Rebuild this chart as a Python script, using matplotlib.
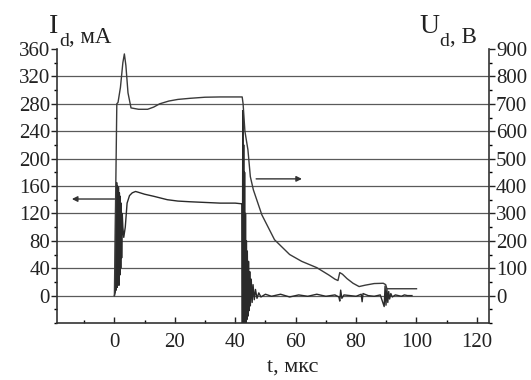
import matplotlib
matplotlib.use("Agg")
import matplotlib.pyplot as plt
from matplotlib.ticker import MultipleLocator

plt.rcParams['font.family'] = ['Liberation Serif', 'DejaVu Serif']

# ---- data ----
# Voltage U_d (V, right axis)
u_t = [0.0, 0.8, 1.2, 2.0, 2.8, 3.3, 3.8, 4.5, 5.5, 8.0, 11.0, 13.0, 15.0, 18.0,
       21.0, 25.0, 30.0, 35.0, 42.3, 42.6, 43.2, 44.2, 45.0, 46.0, 48.8, 53.0,
       58.0, 62.0, 67.0, 71.0, 73.0, 74.0, 74.6, 75.5, 77.0, 79.0, 81.0, 83.0,
       86.0, 89.0, 89.8, 90.2, 91.0, 95.0, 100.0]
u_v = [0, 700, 705, 760, 850, 882, 840, 740, 685, 680, 680, 688, 700, 710,
       716, 720, 724, 725, 725, 700, 600, 532, 434, 386, 295, 204,
       150, 125, 102, 75, 60, 55, 84, 78, 62, 45, 33, 38,
       44, 45, 40, 25, 25, 25, 25]

# Current I_d (mA, left axis)
i_t = [0.0, 0.3, 0.45, 0.6, 0.75, 0.9, 1.05, 1.2, 1.35, 1.5, 1.65, 1.8, 1.95,
       2.1, 2.25, 2.4, 2.6, 2.8, 3.1, 3.6, 4.2, 5.0, 5.9, 7.0, 7.8, 10.0, 13.0,
       17.5, 21.0, 25.0, 30.0, 35.0, 40.0, 42.2,
       42.35, 42.5, 42.65, 42.8, 42.95, 43.1, 43.25, 43.4, 43.55, 43.7, 43.85,
       44.0, 44.2, 44.4, 44.6, 44.8, 45.0, 45.3, 45.6, 45.9, 46.3, 46.7, 47.2,
       47.8, 48.5, 50.0, 52.0, 55.0, 58.0, 61.0, 64.0, 67.0, 70.0, 73.0, 74.3,
       74.6, 74.9, 75.3, 76.0, 78.0, 80.0, 81.7, 82.0, 82.3, 84.0, 86.0, 88.0,
       89.3, 89.6, 89.9, 90.2, 90.5, 90.8, 91.1, 91.5, 92.0, 93.0, 94.0, 95.0,
       96.0, 97.0, 98.5]
i_ma = [0, 5, 150, 8, 165, 12, 160, 20, 158, 15, 150, 30, 145, 40, 135, 55, 120,
        100, 85, 100, 135, 146, 150, 152, 151, 148, 145,
        140, 138, 137, 136, 135, 135, 134,
        -40, 270, -40, 220, -40, 180, -40, 120, -40, 80, -35,
        65, -30, 50, -22, 35, -15, 24, -10, 16, -6, 9, -4,
        4, -2, 2, -1, 2, -2, 1, -1, 2, -1, 1, -2,
        -8, 8, -4, 1, 0, -1, 2, -9, 3, 0, -1, 1,
        -16, 14, -14, 10, -10, 6, -5, 3, -2, 1, 0, -1,
        1, 0, 0]

# Annotation arrows: (t, value)
arr_i = [(1.0, 141), (-15.0, 141)]      # left axis, mA
arr_u = [(46.0, 426), (63.0, 426)]      # right axis, V

x_ticks = [0, 20, 40, 60, 80, 100, 120]
yl_ticks = [0, 40, 80, 120, 160, 200, 240, 280, 320, 360]
yr_ticks = [0, 100, 200, 300, 400, 500, 600, 700, 800, 900]

# ---- figure ----
fig = plt.figure(figsize=(5.31, 3.80), dpi=100)
ax = fig.add_axes([57/531, 1-323/380, (489-57)/531, (323-49)/380])
ax2 = ax.twinx()

ax.set_xlim(-19, 124)
ax.set_ylim(-40, 360)
ax2.set_ylim(-100, 900)

for g in yl_ticks[:-1]:
    ax.axhline(g, color='#5a5a5a', lw=0.9, zorder=0)

ax.plot(i_t, i_ma, color='#2a2a2a', lw=1.0, zorder=3)
ax2.plot(u_t, u_v, color='#3a3a3a', lw=1.0, zorder=3)

ax.annotate('', xy=arr_i[1], xytext=arr_i[0],
            arrowprops=dict(arrowstyle='-|>', color='#333333', lw=1.0,
                            mutation_scale=8))
ax2.annotate('', xy=arr_u[1], xytext=arr_u[0],
             arrowprops=dict(arrowstyle='-|>', color='#333333', lw=1.0,
                             mutation_scale=8))

ax.set_xticks(x_ticks)
ax.set_yticks(yl_ticks)
ax2.set_yticks(yr_ticks)
ax.xaxis.set_minor_locator(MultipleLocator(10))
ax.yaxis.set_minor_locator(MultipleLocator(20))
ax2.yaxis.set_minor_locator(MultipleLocator(50))

for a in (ax, ax2):
    a.spines['top'].set_visible(False)
    for s in a.spines.values():
        s.set_linewidth(1.2)
        s.set_color('#333333')
ax.spines['right'].set_visible(False)
ax2.spines['left'].set_visible(False)
ax2.spines['bottom'].set_visible(False)

ax.tick_params(axis='x', direction='in', length=4, width=1, labelsize=15,
               pad=7, colors='#222222')
ax.tick_params(axis='x', which='minor', direction='in', length=2.5, width=1)
ax.tick_params(axis='y', direction='out', length=4, width=1, labelsize=15,
               pad=1, colors='#222222')
ax.tick_params(axis='y', which='minor', direction='out', length=2.5, width=1)
ax2.tick_params(axis='y', direction='out', length=4, width=1, labelsize=15,
                pad=1, colors='#222222')
ax2.tick_params(axis='y', which='minor', direction='out', length=2.5, width=1)


def axis_title(x_px, base_px, main, unit):
    t1 = fig.text(x_px/531, 1-base_px/380, main, fontsize=20, color='#222222')
    t2 = fig.text(0, 0, 'd', fontsize=14, color='#222222')
    t2.remove()
    t2 = fig.text(0, 0, '', fontsize=1)
    t2.remove()
    t2 = plt.annotate('d', xy=(1, 0), xycoords=t1, xytext=(0.5, -5),
                      textcoords='offset points', fontsize=14,
                      color='#222222', va='baseline', ha='left',
                      annotation_clip=False)
    plt.annotate(unit, xy=(1, 0), xycoords=t2, xytext=(0, 5),
                 textcoords='offset points', fontsize=16.5,
                 color='#222222', va='baseline', ha='left',
                 annotation_clip=False)
    return t1


axis_title(49, 33, 'I', ', мА')
axis_title(419, 33, 'U', ', В')
fig.text(293/531, 1-372/380, 't, мкс', fontsize=16, ha='center', color='#222222')

fig.savefig('out.png', dpi=100)
